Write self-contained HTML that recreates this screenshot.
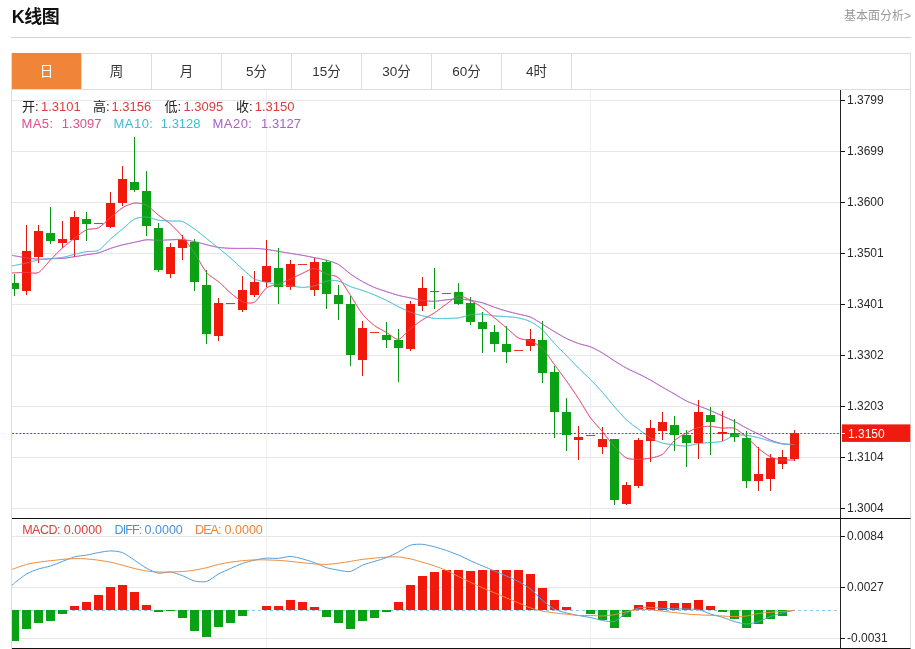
<!DOCTYPE html>
<html lang="zh-CN"><head><meta charset="utf-8"><title>K线图</title>
<style>
html,body{margin:0;padding:0;background:#fff;}
body{width:915px;height:649px;position:relative;overflow:hidden;font-family:"Liberation Sans","Noto Sans CJK SC",sans-serif;color:#222;}
.title{position:absolute;left:11.7px;top:3.7px;font-size:18px;font-weight:bold;line-height:26px;color:#111;letter-spacing:-0.5px}
.more{position:absolute;right:4px;top:7px;font-size:12px;line-height:18px;color:#999;}
.hr{position:absolute;left:11px;top:37px;width:900px;height:1px;background:#d2d2d2;}
.tabs{position:absolute;left:11px;top:53px;width:898px;height:35px;border:1px solid #ddd;background:#fff;}
.tab{position:absolute;top:0;width:69px;height:35px;border-right:1px solid #ddd;text-align:center;font-size:13.5px;line-height:35.6px;color:#333;}
.tab.on{background:#f0853a;color:#fff;top:-1px;height:36px;line-height:37.6px}
.frame{position:absolute;left:11px;top:90px;width:899px;height:559px;border-left:1px solid #ddd;border-right:1px solid #ddd;box-sizing:content-box;width:898px}
svg{position:absolute;left:0;top:0;}
.ax{position:absolute;left:847px;font-size:12px;line-height:14px;color:#2a2a2a;white-space:nowrap;}
.info{position:absolute;left:22px;font-size:13px;line-height:16px;white-space:nowrap;color:#222}
.info span{position:absolute;top:0}
.r{color:#d8403c}
</style></head><body>
<div class="title">K线图</div>
<div class="more">基本面分析&gt;</div>
<div class="hr"></div>
<div class="tabs"><div class="tab on" style="left:0px">日</div><div class="tab" style="left:70px">周</div><div class="tab" style="left:140px">月</div><div class="tab" style="left:210px">5分</div><div class="tab" style="left:280px">15分</div><div class="tab" style="left:350px">30分</div><div class="tab" style="left:420px">60分</div><div class="tab" style="left:490px">4时</div></div>
<div class="frame"></div>
<svg width="915" height="649" viewBox="0 0 915 649">
<defs><clipPath id="cp"><rect x="12" y="90" width="828" height="559"/></clipPath></defs>
<rect x="12" y="100" width="828" height="1" fill="#e7e7e7"/>
<rect x="12" y="151" width="828" height="1" fill="#e7e7e7"/>
<rect x="12" y="202" width="828" height="1" fill="#e7e7e7"/>
<rect x="12" y="253" width="828" height="1" fill="#e7e7e7"/>
<rect x="12" y="304" width="828" height="1" fill="#e7e7e7"/>
<rect x="12" y="355" width="828" height="1" fill="#e7e7e7"/>
<rect x="12" y="406" width="828" height="1" fill="#e7e7e7"/>
<rect x="12" y="457" width="828" height="1" fill="#e7e7e7"/>
<rect x="12" y="508" width="828" height="1" fill="#e7e7e7"/>
<rect x="12" y="536" width="828" height="1" fill="#e7e7e7"/>
<rect x="12" y="587" width="828" height="1" fill="#e7e7e7"/>
<rect x="12" y="638" width="828" height="1" fill="#e7e7e7"/>
<rect x="266" y="90" width="1" height="559" fill="#eceff3"/>
<rect x="590" y="90" width="1" height="559" fill="#eceff3"/>
<line x1="12" y1="610.5" x2="840" y2="610.5" stroke="#8fc4e6" stroke-width="1" stroke-dasharray="3 3"/>
<g clip-path="url(#cp)">
<path d="M11.5 255.4C11.9 255.4 12.7 255.5 14.5 255.8C16.3 256.1 23.6 257.5 26.5 257.9C29.4 258.3 35.6 259.1 38.5 259.2C41.4 259.3 47.6 258.8 50.5 258.7C53.4 258.6 59.6 258.6 62.5 258.4C65.4 258.2 71.6 257.1 74.5 256.7C77.4 256.3 83.6 255.2 86.5 254.7C89.4 254.2 95.6 253.7 98.5 252.9C101.4 252.1 107.6 249.4 110.5 248.4C113.4 247.4 119.6 245.6 122.5 244.9C125.4 244.2 131.6 242.9 134.5 242.3C137.4 241.7 143.6 240.0 146.5 239.8C149.4 239.6 155.6 240.3 158.5 240.3C161.4 240.3 167.6 239.9 170.5 239.8C173.4 239.7 179.6 239.4 182.5 239.6C185.4 239.8 191.6 241.0 194.5 241.6C197.4 242.2 203.6 244.0 206.5 244.7C209.4 245.4 215.6 247.0 218.5 247.4C221.4 247.8 227.6 248.2 230.5 248.3C233.4 248.4 239.6 248.4 242.5 248.4C245.4 248.4 251.6 248.3 254.5 248.4C257.4 248.5 263.6 249.0 266.5 249.4C269.4 249.8 275.6 250.9 278.5 251.4C281.4 251.9 287.6 252.9 290.5 253.4C293.4 253.9 299.6 254.8 302.5 255.3C305.4 255.8 311.6 257.1 314.5 257.7C317.4 258.3 323.6 259.4 326.5 260.2C329.4 261.0 335.6 262.8 338.5 264.5C341.4 266.2 347.6 271.9 350.5 274.0C353.4 276.1 359.6 280.0 362.5 281.6C365.4 283.2 371.6 286.3 374.5 287.5C377.4 288.7 383.6 290.7 386.5 291.6C389.4 292.5 395.6 294.6 398.5 295.4C401.4 296.2 407.6 297.3 410.5 297.9C413.4 298.5 419.6 300.0 422.5 300.4C425.4 300.8 431.6 301.4 434.5 301.3C437.4 301.2 443.6 300.1 446.5 299.8C449.4 299.5 455.6 298.9 458.5 299.0C461.4 299.1 467.6 299.8 470.5 300.3C473.4 300.8 479.6 302.0 482.5 302.8C485.4 303.6 491.6 306.3 494.5 307.3C497.4 308.3 503.6 310.3 506.5 311.1C509.4 311.9 515.6 313.4 518.5 314.1C521.4 314.8 527.6 315.9 530.5 317.1C533.4 318.3 539.6 322.4 542.5 324.2C545.4 326.0 551.6 330.0 554.5 331.7C557.4 333.4 563.6 337.1 566.5 338.5C569.4 339.9 575.6 342.5 578.5 343.5C581.4 344.5 587.6 345.7 590.5 346.8C593.4 347.9 599.6 351.3 602.5 353.0C605.4 354.7 611.6 359.1 614.5 360.9C617.4 362.7 623.6 366.6 626.5 368.2C629.4 369.8 635.6 372.5 638.5 373.9C641.4 375.3 647.6 378.5 650.5 380.1C653.4 381.7 659.6 385.5 662.5 387.2C665.4 388.9 671.6 392.3 674.5 394.0C677.4 395.7 683.6 399.6 686.5 401.0C689.4 402.4 695.6 404.6 698.5 405.8C701.4 407.0 707.6 409.4 710.5 410.6C713.4 411.8 719.6 414.7 722.5 416.0C725.4 417.3 731.6 419.9 734.5 421.4C737.4 422.9 743.6 426.6 746.5 428.1C749.4 429.6 755.6 432.7 758.5 434.1C761.4 435.5 767.6 438.9 770.5 440.1C773.4 441.3 779.6 443.2 782.5 443.7C785.4 444.2 793.1 444.5 794.5 444.6" fill="none" stroke="#ab55be" stroke-width="1.0"/>
<path d="M11.5 266.0C11.9 265.9 12.7 265.9 14.5 265.5C16.3 265.1 23.6 263.7 26.5 263.0C29.4 262.3 35.6 260.4 38.5 259.9C41.4 259.4 47.6 259.0 50.5 258.7C53.4 258.4 59.6 257.9 62.5 257.4C65.4 256.9 71.6 255.1 74.5 254.4C77.4 253.7 83.6 252.1 86.5 251.6C89.4 251.1 95.6 251.9 98.5 250.4C101.4 248.9 107.6 241.7 110.5 239.1C113.4 236.5 119.6 231.4 122.5 229.0C125.4 226.6 131.6 220.4 134.5 219.0C137.4 217.6 143.6 216.9 146.5 217.0C149.4 217.1 155.6 219.7 158.5 220.2C161.4 220.7 167.6 220.8 170.5 221.0C173.4 221.2 179.6 220.5 182.5 221.5C185.4 222.5 191.6 227.0 194.5 229.0C197.4 231.0 203.6 236.2 206.5 238.5C209.4 240.8 215.6 245.7 218.5 248.0C221.4 250.3 227.6 255.5 230.5 258.0C233.4 260.5 239.6 266.5 242.5 269.0C245.4 271.5 251.6 277.4 254.5 279.0C257.4 280.6 263.6 281.6 266.5 282.3C269.4 283.0 275.6 284.2 278.5 284.6C281.4 285.0 287.6 285.6 290.5 285.9C293.4 286.2 299.6 287.4 302.5 287.4C305.4 287.4 311.6 286.7 314.5 285.9C317.4 285.1 323.6 281.7 326.5 281.1C329.4 280.5 335.6 280.3 338.5 281.0C341.4 281.7 347.6 285.5 350.5 286.6C353.4 287.7 359.6 289.4 362.5 290.4C365.4 291.4 371.6 293.8 374.5 295.0C377.4 296.2 383.6 299.0 386.5 300.4C389.4 301.8 395.6 305.3 398.5 306.7C401.4 308.1 407.6 311.2 410.5 312.3C413.4 313.4 419.6 315.1 422.5 315.8C425.4 316.5 431.6 318.1 434.5 318.4C437.4 318.7 443.6 318.5 446.5 318.4C449.4 318.3 455.6 318.3 458.5 317.9C461.4 317.5 467.6 315.4 470.5 314.9C473.4 314.4 479.6 314.0 482.5 314.1C485.4 314.2 491.6 315.6 494.5 315.9C497.4 316.2 503.6 316.4 506.5 316.6C509.4 316.8 515.6 317.3 518.5 317.9C521.4 318.5 527.6 320.2 530.5 321.6C533.4 323.0 539.6 327.3 542.5 329.9C545.4 332.5 551.6 340.4 554.5 343.5C557.4 346.6 563.6 352.7 566.5 355.6C569.4 358.5 575.6 365.1 578.5 368.0C581.4 370.9 587.6 376.6 590.5 379.5C593.4 382.4 599.6 389.1 602.5 392.4C605.4 395.7 611.6 403.5 614.5 406.8C617.4 410.1 623.6 417.2 626.5 419.9C629.4 422.6 635.6 427.0 638.5 429.2C641.4 431.4 647.6 436.3 650.5 438.0C653.4 439.7 659.6 442.2 662.5 443.0C665.4 443.8 671.6 444.6 674.5 445.0C677.4 445.4 683.6 446.2 686.5 446.0C689.4 445.8 695.6 443.9 698.5 443.5C701.4 443.1 707.6 442.8 710.5 442.5C713.4 442.2 719.6 442.2 722.5 441.3C725.4 440.4 731.6 436.0 734.5 435.3C737.4 434.6 743.6 435.0 746.5 435.3C749.4 435.6 755.6 437.0 758.5 437.7C761.4 438.4 767.6 440.5 770.5 441.3C773.4 442.1 779.6 443.6 782.5 444.0C785.4 444.4 793.1 444.5 794.5 444.6" fill="none" stroke="#3bbcd0" stroke-width="1.0"/>
<path d="M11.5 273.0C11.9 273.0 12.7 272.9 14.5 272.8C16.3 272.7 23.6 272.5 26.5 272.5C29.4 272.5 35.6 274.0 38.5 272.5C41.4 271.0 47.6 262.9 50.5 259.9C53.4 256.9 59.6 250.5 62.5 247.9C65.4 245.3 71.6 240.5 74.5 238.3C77.4 236.1 83.6 231.1 86.5 229.8C89.4 228.5 95.6 229.3 98.5 227.8C101.4 226.3 107.6 220.1 110.5 217.7C113.4 215.3 119.6 209.5 122.5 207.7C125.4 205.9 131.6 203.4 134.5 203.1C137.4 202.8 143.6 203.6 146.5 205.1C149.4 206.6 155.6 212.9 158.5 215.2C161.4 217.5 167.6 221.4 170.5 224.0C173.4 226.6 179.6 233.1 182.5 236.6C185.4 240.1 191.6 248.6 194.5 252.9C197.4 257.2 203.6 269.0 206.5 272.5C209.4 276.0 215.6 279.3 218.5 281.7C221.4 284.1 227.6 290.5 230.5 292.9C233.4 295.3 239.6 300.6 242.5 301.7C245.4 302.8 251.6 303.9 254.5 302.2C257.4 300.5 263.6 290.1 266.5 287.9C269.4 285.7 275.6 285.2 278.5 284.1C281.4 283.0 287.6 280.4 290.5 279.1C293.4 277.8 299.6 274.6 302.5 273.3C305.4 272.0 311.6 268.2 314.5 268.3C317.4 268.4 323.6 272.9 326.5 274.0C329.4 275.1 335.6 275.2 338.5 277.8C341.4 280.4 347.6 291.0 350.5 295.4C353.4 299.8 359.6 310.7 362.5 314.3C365.4 317.9 371.6 323.4 374.5 325.6C377.4 327.8 383.6 330.7 386.5 332.4C389.4 334.1 395.6 339.9 398.5 339.4C401.4 338.9 407.6 331.0 410.5 328.6C413.4 326.2 419.6 321.7 422.5 319.8C425.4 317.9 431.6 314.7 434.5 312.8C437.4 310.9 443.6 306.0 446.5 304.0C449.4 302.0 455.6 296.2 458.5 295.8C461.4 295.4 467.6 298.9 470.5 300.3C473.4 301.7 479.6 305.7 482.5 307.8C485.4 309.9 491.6 315.5 494.5 317.9C497.4 320.3 503.6 325.5 506.5 327.9C509.4 330.3 515.6 336.4 518.5 338.0C521.4 339.6 527.6 339.7 530.5 341.0C533.4 342.3 539.6 345.7 542.5 348.5C545.4 351.3 551.6 360.8 554.5 364.7C557.4 368.6 563.6 376.9 566.5 381.0C569.4 385.1 575.6 394.2 578.5 398.6C581.4 403.0 587.6 413.8 590.5 417.8C593.4 421.8 599.6 428.2 602.5 431.7C605.4 435.2 611.6 443.6 614.5 446.8C617.4 450.0 623.6 456.6 626.5 458.1C629.4 459.6 635.6 459.3 638.5 459.3C641.4 459.3 647.6 458.7 650.5 458.1C653.4 457.5 659.6 456.4 662.5 454.3C665.4 452.2 671.6 443.1 674.5 440.5C677.4 437.9 683.6 434.5 686.5 432.9C689.4 431.3 695.6 428.2 698.5 427.4C701.4 426.6 707.6 426.2 710.5 426.3C713.4 426.4 719.6 427.9 722.5 428.1C725.4 428.3 731.6 427.2 734.5 428.3C737.4 429.4 743.6 434.7 746.5 437.1C749.4 439.5 755.6 446.1 758.5 448.5C761.4 450.9 767.6 455.5 770.5 456.9C773.4 458.3 779.6 459.5 782.5 459.9C785.4 460.3 793.1 459.9 794.5 459.9" fill="none" stroke="#e4406c" stroke-width="1.0"/>
<g shape-rendering="crispEdges">
<rect x="14.0" y="274.3" width="1" height="21.8" fill="#0a9614"/>
<rect x="10.0" y="282.6" width="9" height="6.0" fill="#0ba115"/>
<rect x="26.0" y="225.2" width="1" height="69.7" fill="#dc180d"/>
<rect x="22.0" y="250.9" width="9" height="39.7" fill="#f1190b"/>
<rect x="38.0" y="224.5" width="1" height="38.0" fill="#dc180d"/>
<rect x="34.0" y="230.8" width="9" height="26.6" fill="#f1190b"/>
<rect x="50.0" y="206.9" width="1" height="37.2" fill="#0a9614"/>
<rect x="46.0" y="232.8" width="9" height="7.8" fill="#0ba115"/>
<rect x="62.0" y="220.7" width="1" height="27.2" fill="#dc180d"/>
<rect x="58.0" y="239.3" width="9" height="4.0" fill="#f1190b"/>
<rect x="74.0" y="210.9" width="1" height="46.5" fill="#dc180d"/>
<rect x="70.0" y="217.2" width="9" height="22.6" fill="#f1190b"/>
<rect x="86.0" y="211.9" width="1" height="28.9" fill="#0a9614"/>
<rect x="82.0" y="218.5" width="9" height="5.2" fill="#0ba115"/>
<rect x="94.0" y="223" width="9" height="1" fill="#e5352b"/>
<rect x="110.0" y="192.0" width="1" height="35.8" fill="#dc180d"/>
<rect x="106.0" y="202.6" width="9" height="24.7" fill="#f1190b"/>
<rect x="122.0" y="165.5" width="1" height="40.2" fill="#dc180d"/>
<rect x="118.0" y="178.8" width="9" height="24.4" fill="#f1190b"/>
<rect x="134.0" y="137.3" width="1" height="54.6" fill="#0a9614"/>
<rect x="130.0" y="182.3" width="9" height="7.6" fill="#0ba115"/>
<rect x="146.0" y="171.0" width="1" height="64.9" fill="#0a9614"/>
<rect x="142.0" y="190.6" width="9" height="35.3" fill="#0ba115"/>
<rect x="158.0" y="223.2" width="1" height="48.6" fill="#0a9614"/>
<rect x="154.0" y="227.8" width="9" height="42.2" fill="#0ba115"/>
<rect x="170.0" y="242.8" width="1" height="34.7" fill="#dc180d"/>
<rect x="166.0" y="247.1" width="9" height="26.4" fill="#f1190b"/>
<rect x="182.0" y="235.3" width="1" height="24.7" fill="#dc180d"/>
<rect x="178.0" y="239.8" width="9" height="8.1" fill="#f1190b"/>
<rect x="194.0" y="239.0" width="1" height="51.6" fill="#0a9614"/>
<rect x="190.0" y="241.6" width="9" height="40.2" fill="#0ba115"/>
<rect x="206.0" y="270.4" width="1" height="73.3" fill="#0a9614"/>
<rect x="202.0" y="285.2" width="9" height="48.9" fill="#0ba115"/>
<rect x="218.0" y="298.2" width="1" height="42.6" fill="#dc180d"/>
<rect x="214.0" y="303.3" width="9" height="32.7" fill="#f1190b"/>
<rect x="226.0" y="303" width="9" height="1" fill="#e5352b"/>
<rect x="242.0" y="275.8" width="1" height="36.0" fill="#dc180d"/>
<rect x="238.0" y="289.6" width="9" height="20.1" fill="#f1190b"/>
<rect x="254.0" y="270.8" width="1" height="26.6" fill="#dc180d"/>
<rect x="250.0" y="282.3" width="9" height="13.1" fill="#f1190b"/>
<rect x="266.0" y="239.6" width="1" height="47.0" fill="#dc180d"/>
<rect x="262.0" y="266.0" width="9" height="15.6" fill="#f1190b"/>
<rect x="278.0" y="248.2" width="1" height="55.5" fill="#0a9614"/>
<rect x="274.0" y="268.0" width="9" height="18.6" fill="#0ba115"/>
<rect x="290.0" y="260.2" width="1" height="29.7" fill="#dc180d"/>
<rect x="286.0" y="264.2" width="9" height="22.4" fill="#f1190b"/>
<rect x="298.0" y="264" width="9" height="1" fill="#e5352b"/>
<rect x="314.0" y="258.2" width="1" height="37.7" fill="#dc180d"/>
<rect x="310.0" y="261.5" width="9" height="28.1" fill="#f1190b"/>
<rect x="326.0" y="260.2" width="1" height="48.5" fill="#0a9614"/>
<rect x="322.0" y="261.5" width="9" height="32.2" fill="#0ba115"/>
<rect x="338.0" y="285.4" width="1" height="34.1" fill="#0a9614"/>
<rect x="334.0" y="295.4" width="9" height="8.3" fill="#0ba115"/>
<rect x="350.0" y="296.2" width="1" height="70.1" fill="#0a9614"/>
<rect x="346.0" y="303.5" width="9" height="51.7" fill="#0ba115"/>
<rect x="362.0" y="320.6" width="1" height="55.3" fill="#dc180d"/>
<rect x="358.0" y="328.1" width="9" height="31.4" fill="#f1190b"/>
<rect x="370.0" y="332" width="9" height="1" fill="#e5352b"/>
<rect x="386.0" y="321.8" width="1" height="26.4" fill="#0a9614"/>
<rect x="382.0" y="335.1" width="9" height="5.1" fill="#0ba115"/>
<rect x="398.0" y="329.4" width="1" height="52.7" fill="#0a9614"/>
<rect x="394.0" y="339.9" width="9" height="7.8" fill="#0ba115"/>
<rect x="410.0" y="301.0" width="1" height="49.7" fill="#dc180d"/>
<rect x="406.0" y="304.1" width="9" height="45.3" fill="#f1190b"/>
<rect x="422.0" y="276.7" width="1" height="34.3" fill="#dc180d"/>
<rect x="418.0" y="288.0" width="9" height="17.9" fill="#f1190b"/>
<rect x="434.0" y="268.1" width="1" height="41.2" fill="#0a9614"/>
<rect x="430.0" y="290.6" width="9" height="1.4" fill="#0ba115"/>
<rect x="442.0" y="293" width="9" height="1" fill="#e5352b"/>
<rect x="458.0" y="282.7" width="1" height="22.1" fill="#0a9614"/>
<rect x="454.0" y="292.2" width="9" height="11.3" fill="#0ba115"/>
<rect x="470.0" y="296.5" width="1" height="28.2" fill="#0a9614"/>
<rect x="466.0" y="302.8" width="9" height="18.8" fill="#0ba115"/>
<rect x="482.0" y="311.6" width="1" height="41.5" fill="#0a9614"/>
<rect x="478.0" y="321.6" width="9" height="7.1" fill="#0ba115"/>
<rect x="494.0" y="325.4" width="1" height="26.4" fill="#0a9614"/>
<rect x="490.0" y="331.7" width="9" height="11.8" fill="#0ba115"/>
<rect x="506.0" y="326.2" width="1" height="36.4" fill="#0a9614"/>
<rect x="502.0" y="343.8" width="9" height="8.0" fill="#0ba115"/>
<rect x="514.0" y="350" width="9" height="1" fill="#e5352b"/>
<rect x="530.0" y="329.2" width="1" height="21.4" fill="#dc180d"/>
<rect x="526.0" y="338.5" width="9" height="7.8" fill="#f1190b"/>
<rect x="542.0" y="320.9" width="1" height="61.8" fill="#0a9614"/>
<rect x="538.0" y="340.0" width="9" height="32.8" fill="#0ba115"/>
<rect x="554.0" y="366.2" width="1" height="71.8" fill="#0a9614"/>
<rect x="550.0" y="372.3" width="9" height="39.2" fill="#0ba115"/>
<rect x="566.0" y="398.2" width="1" height="52.3" fill="#0a9614"/>
<rect x="562.0" y="412.2" width="9" height="22.7" fill="#0ba115"/>
<rect x="578.0" y="426.1" width="1" height="34.0" fill="#dc180d"/>
<rect x="574.0" y="436.7" width="9" height="3.0" fill="#f1190b"/>
<rect x="586.0" y="435" width="9" height="1" fill="#e5352b"/>
<rect x="602.0" y="427.4" width="1" height="26.9" fill="#dc180d"/>
<rect x="598.0" y="438.7" width="9" height="8.6" fill="#f1190b"/>
<rect x="614.0" y="439.2" width="1" height="65.4" fill="#0a9614"/>
<rect x="610.0" y="439.2" width="9" height="61.1" fill="#0ba115"/>
<rect x="626.0" y="482.0" width="1" height="22.6" fill="#dc180d"/>
<rect x="622.0" y="484.5" width="9" height="19.3" fill="#f1190b"/>
<rect x="638.0" y="437.5" width="1" height="50.2" fill="#dc180d"/>
<rect x="634.0" y="440.0" width="9" height="45.7" fill="#f1190b"/>
<rect x="650.0" y="420.4" width="1" height="41.4" fill="#dc180d"/>
<rect x="646.0" y="428.4" width="9" height="12.8" fill="#f1190b"/>
<rect x="662.0" y="412.3" width="1" height="27.7" fill="#dc180d"/>
<rect x="658.0" y="421.6" width="9" height="9.3" fill="#f1190b"/>
<rect x="674.0" y="415.8" width="1" height="34.7" fill="#0a9614"/>
<rect x="670.0" y="425.4" width="9" height="9.3" fill="#0ba115"/>
<rect x="686.0" y="430.4" width="1" height="36.5" fill="#0a9614"/>
<rect x="682.0" y="435.4" width="9" height="7.6" fill="#0ba115"/>
<rect x="698.0" y="400.2" width="1" height="58.4" fill="#dc180d"/>
<rect x="694.0" y="412.3" width="9" height="30.7" fill="#f1190b"/>
<rect x="710.0" y="406.6" width="1" height="47.9" fill="#0a9614"/>
<rect x="706.0" y="414.7" width="9" height="7.4" fill="#0ba115"/>
<rect x="722.0" y="410.7" width="1" height="29.9" fill="#dc180d"/>
<rect x="718.0" y="431.7" width="9" height="1.9" fill="#f1190b"/>
<rect x="734.0" y="419.1" width="1" height="22.4" fill="#0a9614"/>
<rect x="730.0" y="433.3" width="9" height="3.5" fill="#0ba115"/>
<rect x="746.0" y="430.6" width="1" height="57.1" fill="#0a9614"/>
<rect x="742.0" y="437.8" width="9" height="43.3" fill="#0ba115"/>
<rect x="758.0" y="446.8" width="1" height="43.8" fill="#dc180d"/>
<rect x="754.0" y="474.3" width="9" height="7.0" fill="#f1190b"/>
<rect x="770.0" y="454.0" width="1" height="36.6" fill="#dc180d"/>
<rect x="766.0" y="458.3" width="9" height="20.2" fill="#f1190b"/>
<rect x="782.0" y="449.8" width="1" height="19.0" fill="#dc180d"/>
<rect x="778.0" y="456.9" width="9" height="6.8" fill="#f1190b"/>
<rect x="794.0" y="429.9" width="1" height="30.8" fill="#dc180d"/>
<rect x="790.0" y="433.2" width="9" height="25.7" fill="#f1190b"/>
<rect x="10.0" y="610.4" width="9" height="30.2" fill="#0ba115"/>
<rect x="22.0" y="610.4" width="9" height="18.4" fill="#0ba115"/>
<rect x="34.0" y="610.4" width="9" height="12.6" fill="#0ba115"/>
<rect x="46.0" y="610.4" width="9" height="10.1" fill="#0ba115"/>
<rect x="58.0" y="610.4" width="9" height="3.8" fill="#0ba115"/>
<rect x="70.0" y="606.2" width="9" height="4.2" fill="#f1190b"/>
<rect x="82.0" y="601.6" width="9" height="8.8" fill="#f1190b"/>
<rect x="94.0" y="594.8" width="9" height="15.6" fill="#f1190b"/>
<rect x="106.0" y="586.6" width="9" height="23.8" fill="#f1190b"/>
<rect x="118.0" y="584.5" width="9" height="25.9" fill="#f1190b"/>
<rect x="130.0" y="592.3" width="9" height="18.1" fill="#f1190b"/>
<rect x="142.0" y="604.7" width="9" height="5.7" fill="#f1190b"/>
<rect x="154.0" y="610.4" width="9" height="2.0" fill="#0ba115"/>
<rect x="166.0" y="610.4" width="9" height="0.6" fill="#0ba115"/>
<rect x="178.0" y="610.4" width="9" height="7.1" fill="#0ba115"/>
<rect x="190.0" y="610.4" width="9" height="20.1" fill="#0ba115"/>
<rect x="202.0" y="610.4" width="9" height="26.4" fill="#0ba115"/>
<rect x="214.0" y="610.4" width="9" height="16.9" fill="#0ba115"/>
<rect x="226.0" y="610.4" width="9" height="12.1" fill="#0ba115"/>
<rect x="238.0" y="610.4" width="9" height="5.1" fill="#0ba115"/>
<rect x="262.0" y="605.9" width="9" height="4.5" fill="#f1190b"/>
<rect x="274.0" y="605.9" width="9" height="4.5" fill="#f1190b"/>
<rect x="286.0" y="600.4" width="9" height="10.0" fill="#f1190b"/>
<rect x="298.0" y="602.1" width="9" height="8.3" fill="#f1190b"/>
<rect x="310.0" y="607.2" width="9" height="3.2" fill="#f1190b"/>
<rect x="322.0" y="610.4" width="9" height="6.3" fill="#0ba115"/>
<rect x="334.0" y="610.4" width="9" height="12.6" fill="#0ba115"/>
<rect x="346.0" y="610.4" width="9" height="18.9" fill="#0ba115"/>
<rect x="358.0" y="610.4" width="9" height="10.1" fill="#0ba115"/>
<rect x="370.0" y="610.4" width="9" height="7.1" fill="#0ba115"/>
<rect x="382.0" y="610.4" width="9" height="1.3" fill="#0ba115"/>
<rect x="394.0" y="601.6" width="9" height="8.8" fill="#f1190b"/>
<rect x="406.0" y="584.5" width="9" height="25.9" fill="#f1190b"/>
<rect x="418.0" y="575.7" width="9" height="34.7" fill="#f1190b"/>
<rect x="430.0" y="572.0" width="9" height="38.4" fill="#f1190b"/>
<rect x="442.0" y="569.5" width="9" height="40.9" fill="#f1190b"/>
<rect x="454.0" y="569.5" width="9" height="40.9" fill="#f1190b"/>
<rect x="466.0" y="570.7" width="9" height="39.7" fill="#f1190b"/>
<rect x="478.0" y="569.7" width="9" height="40.7" fill="#f1190b"/>
<rect x="490.0" y="570.2" width="9" height="40.2" fill="#f1190b"/>
<rect x="502.0" y="569.5" width="9" height="40.9" fill="#f1190b"/>
<rect x="514.0" y="569.5" width="9" height="40.9" fill="#f1190b"/>
<rect x="526.0" y="574.0" width="9" height="36.4" fill="#f1190b"/>
<rect x="538.0" y="587.8" width="9" height="22.6" fill="#f1190b"/>
<rect x="550.0" y="600.4" width="9" height="10.0" fill="#f1190b"/>
<rect x="562.0" y="607.2" width="9" height="3.2" fill="#f1190b"/>
<rect x="586.0" y="610.4" width="9" height="3.1" fill="#0ba115"/>
<rect x="598.0" y="610.4" width="9" height="9.3" fill="#0ba115"/>
<rect x="610.0" y="610.4" width="9" height="17.1" fill="#0ba115"/>
<rect x="622.0" y="610.4" width="9" height="6.8" fill="#0ba115"/>
<rect x="634.0" y="605.4" width="9" height="5.0" fill="#f1190b"/>
<rect x="646.0" y="602.1" width="9" height="8.3" fill="#f1190b"/>
<rect x="658.0" y="601.1" width="9" height="9.3" fill="#f1190b"/>
<rect x="670.0" y="603.0" width="9" height="7.4" fill="#f1190b"/>
<rect x="682.0" y="602.7" width="9" height="7.7" fill="#f1190b"/>
<rect x="694.0" y="599.7" width="9" height="10.7" fill="#f1190b"/>
<rect x="706.0" y="606.0" width="9" height="4.4" fill="#f1190b"/>
<rect x="718.0" y="610.4" width="9" height="1.6" fill="#0ba115"/>
<rect x="730.0" y="610.4" width="9" height="8.6" fill="#0ba115"/>
<rect x="742.0" y="610.4" width="9" height="17.4" fill="#0ba115"/>
<rect x="754.0" y="610.4" width="9" height="13.6" fill="#0ba115"/>
<rect x="766.0" y="610.4" width="9" height="8.1" fill="#0ba115"/>
<rect x="778.0" y="610.4" width="9" height="5.4" fill="#0ba115"/>
</g>
<g opacity="0.4">
<path d="M11.5 255.4C11.9 255.4 12.7 255.5 14.5 255.8C16.3 256.1 23.6 257.5 26.5 257.9C29.4 258.3 35.6 259.1 38.5 259.2C41.4 259.3 47.6 258.8 50.5 258.7C53.4 258.6 59.6 258.6 62.5 258.4C65.4 258.2 71.6 257.1 74.5 256.7C77.4 256.3 83.6 255.2 86.5 254.7C89.4 254.2 95.6 253.7 98.5 252.9C101.4 252.1 107.6 249.4 110.5 248.4C113.4 247.4 119.6 245.6 122.5 244.9C125.4 244.2 131.6 242.9 134.5 242.3C137.4 241.7 143.6 240.0 146.5 239.8C149.4 239.6 155.6 240.3 158.5 240.3C161.4 240.3 167.6 239.9 170.5 239.8C173.4 239.7 179.6 239.4 182.5 239.6C185.4 239.8 191.6 241.0 194.5 241.6C197.4 242.2 203.6 244.0 206.5 244.7C209.4 245.4 215.6 247.0 218.5 247.4C221.4 247.8 227.6 248.2 230.5 248.3C233.4 248.4 239.6 248.4 242.5 248.4C245.4 248.4 251.6 248.3 254.5 248.4C257.4 248.5 263.6 249.0 266.5 249.4C269.4 249.8 275.6 250.9 278.5 251.4C281.4 251.9 287.6 252.9 290.5 253.4C293.4 253.9 299.6 254.8 302.5 255.3C305.4 255.8 311.6 257.1 314.5 257.7C317.4 258.3 323.6 259.4 326.5 260.2C329.4 261.0 335.6 262.8 338.5 264.5C341.4 266.2 347.6 271.9 350.5 274.0C353.4 276.1 359.6 280.0 362.5 281.6C365.4 283.2 371.6 286.3 374.5 287.5C377.4 288.7 383.6 290.7 386.5 291.6C389.4 292.5 395.6 294.6 398.5 295.4C401.4 296.2 407.6 297.3 410.5 297.9C413.4 298.5 419.6 300.0 422.5 300.4C425.4 300.8 431.6 301.4 434.5 301.3C437.4 301.2 443.6 300.1 446.5 299.8C449.4 299.5 455.6 298.9 458.5 299.0C461.4 299.1 467.6 299.8 470.5 300.3C473.4 300.8 479.6 302.0 482.5 302.8C485.4 303.6 491.6 306.3 494.5 307.3C497.4 308.3 503.6 310.3 506.5 311.1C509.4 311.9 515.6 313.4 518.5 314.1C521.4 314.8 527.6 315.9 530.5 317.1C533.4 318.3 539.6 322.4 542.5 324.2C545.4 326.0 551.6 330.0 554.5 331.7C557.4 333.4 563.6 337.1 566.5 338.5C569.4 339.9 575.6 342.5 578.5 343.5C581.4 344.5 587.6 345.7 590.5 346.8C593.4 347.9 599.6 351.3 602.5 353.0C605.4 354.7 611.6 359.1 614.5 360.9C617.4 362.7 623.6 366.6 626.5 368.2C629.4 369.8 635.6 372.5 638.5 373.9C641.4 375.3 647.6 378.5 650.5 380.1C653.4 381.7 659.6 385.5 662.5 387.2C665.4 388.9 671.6 392.3 674.5 394.0C677.4 395.7 683.6 399.6 686.5 401.0C689.4 402.4 695.6 404.6 698.5 405.8C701.4 407.0 707.6 409.4 710.5 410.6C713.4 411.8 719.6 414.7 722.5 416.0C725.4 417.3 731.6 419.9 734.5 421.4C737.4 422.9 743.6 426.6 746.5 428.1C749.4 429.6 755.6 432.7 758.5 434.1C761.4 435.5 767.6 438.9 770.5 440.1C773.4 441.3 779.6 443.2 782.5 443.7C785.4 444.2 793.1 444.5 794.5 444.6" fill="none" stroke="#c47fd2" stroke-width="1.0"/>
<path d="M11.5 266.0C11.9 265.9 12.7 265.9 14.5 265.5C16.3 265.1 23.6 263.7 26.5 263.0C29.4 262.3 35.6 260.4 38.5 259.9C41.4 259.4 47.6 259.0 50.5 258.7C53.4 258.4 59.6 257.9 62.5 257.4C65.4 256.9 71.6 255.1 74.5 254.4C77.4 253.7 83.6 252.1 86.5 251.6C89.4 251.1 95.6 251.9 98.5 250.4C101.4 248.9 107.6 241.7 110.5 239.1C113.4 236.5 119.6 231.4 122.5 229.0C125.4 226.6 131.6 220.4 134.5 219.0C137.4 217.6 143.6 216.9 146.5 217.0C149.4 217.1 155.6 219.7 158.5 220.2C161.4 220.7 167.6 220.8 170.5 221.0C173.4 221.2 179.6 220.5 182.5 221.5C185.4 222.5 191.6 227.0 194.5 229.0C197.4 231.0 203.6 236.2 206.5 238.5C209.4 240.8 215.6 245.7 218.5 248.0C221.4 250.3 227.6 255.5 230.5 258.0C233.4 260.5 239.6 266.5 242.5 269.0C245.4 271.5 251.6 277.4 254.5 279.0C257.4 280.6 263.6 281.6 266.5 282.3C269.4 283.0 275.6 284.2 278.5 284.6C281.4 285.0 287.6 285.6 290.5 285.9C293.4 286.2 299.6 287.4 302.5 287.4C305.4 287.4 311.6 286.7 314.5 285.9C317.4 285.1 323.6 281.7 326.5 281.1C329.4 280.5 335.6 280.3 338.5 281.0C341.4 281.7 347.6 285.5 350.5 286.6C353.4 287.7 359.6 289.4 362.5 290.4C365.4 291.4 371.6 293.8 374.5 295.0C377.4 296.2 383.6 299.0 386.5 300.4C389.4 301.8 395.6 305.3 398.5 306.7C401.4 308.1 407.6 311.2 410.5 312.3C413.4 313.4 419.6 315.1 422.5 315.8C425.4 316.5 431.6 318.1 434.5 318.4C437.4 318.7 443.6 318.5 446.5 318.4C449.4 318.3 455.6 318.3 458.5 317.9C461.4 317.5 467.6 315.4 470.5 314.9C473.4 314.4 479.6 314.0 482.5 314.1C485.4 314.2 491.6 315.6 494.5 315.9C497.4 316.2 503.6 316.4 506.5 316.6C509.4 316.8 515.6 317.3 518.5 317.9C521.4 318.5 527.6 320.2 530.5 321.6C533.4 323.0 539.6 327.3 542.5 329.9C545.4 332.5 551.6 340.4 554.5 343.5C557.4 346.6 563.6 352.7 566.5 355.6C569.4 358.5 575.6 365.1 578.5 368.0C581.4 370.9 587.6 376.6 590.5 379.5C593.4 382.4 599.6 389.1 602.5 392.4C605.4 395.7 611.6 403.5 614.5 406.8C617.4 410.1 623.6 417.2 626.5 419.9C629.4 422.6 635.6 427.0 638.5 429.2C641.4 431.4 647.6 436.3 650.5 438.0C653.4 439.7 659.6 442.2 662.5 443.0C665.4 443.8 671.6 444.6 674.5 445.0C677.4 445.4 683.6 446.2 686.5 446.0C689.4 445.8 695.6 443.9 698.5 443.5C701.4 443.1 707.6 442.8 710.5 442.5C713.4 442.2 719.6 442.2 722.5 441.3C725.4 440.4 731.6 436.0 734.5 435.3C737.4 434.6 743.6 435.0 746.5 435.3C749.4 435.6 755.6 437.0 758.5 437.7C761.4 438.4 767.6 440.5 770.5 441.3C773.4 442.1 779.6 443.6 782.5 444.0C785.4 444.4 793.1 444.5 794.5 444.6" fill="none" stroke="#7fd6e4" stroke-width="1.0"/>
<path d="M11.5 273.0C11.9 273.0 12.7 272.9 14.5 272.8C16.3 272.7 23.6 272.5 26.5 272.5C29.4 272.5 35.6 274.0 38.5 272.5C41.4 271.0 47.6 262.9 50.5 259.9C53.4 256.9 59.6 250.5 62.5 247.9C65.4 245.3 71.6 240.5 74.5 238.3C77.4 236.1 83.6 231.1 86.5 229.8C89.4 228.5 95.6 229.3 98.5 227.8C101.4 226.3 107.6 220.1 110.5 217.7C113.4 215.3 119.6 209.5 122.5 207.7C125.4 205.9 131.6 203.4 134.5 203.1C137.4 202.8 143.6 203.6 146.5 205.1C149.4 206.6 155.6 212.9 158.5 215.2C161.4 217.5 167.6 221.4 170.5 224.0C173.4 226.6 179.6 233.1 182.5 236.6C185.4 240.1 191.6 248.6 194.5 252.9C197.4 257.2 203.6 269.0 206.5 272.5C209.4 276.0 215.6 279.3 218.5 281.7C221.4 284.1 227.6 290.5 230.5 292.9C233.4 295.3 239.6 300.6 242.5 301.7C245.4 302.8 251.6 303.9 254.5 302.2C257.4 300.5 263.6 290.1 266.5 287.9C269.4 285.7 275.6 285.2 278.5 284.1C281.4 283.0 287.6 280.4 290.5 279.1C293.4 277.8 299.6 274.6 302.5 273.3C305.4 272.0 311.6 268.2 314.5 268.3C317.4 268.4 323.6 272.9 326.5 274.0C329.4 275.1 335.6 275.2 338.5 277.8C341.4 280.4 347.6 291.0 350.5 295.4C353.4 299.8 359.6 310.7 362.5 314.3C365.4 317.9 371.6 323.4 374.5 325.6C377.4 327.8 383.6 330.7 386.5 332.4C389.4 334.1 395.6 339.9 398.5 339.4C401.4 338.9 407.6 331.0 410.5 328.6C413.4 326.2 419.6 321.7 422.5 319.8C425.4 317.9 431.6 314.7 434.5 312.8C437.4 310.9 443.6 306.0 446.5 304.0C449.4 302.0 455.6 296.2 458.5 295.8C461.4 295.4 467.6 298.9 470.5 300.3C473.4 301.7 479.6 305.7 482.5 307.8C485.4 309.9 491.6 315.5 494.5 317.9C497.4 320.3 503.6 325.5 506.5 327.9C509.4 330.3 515.6 336.4 518.5 338.0C521.4 339.6 527.6 339.7 530.5 341.0C533.4 342.3 539.6 345.7 542.5 348.5C545.4 351.3 551.6 360.8 554.5 364.7C557.4 368.6 563.6 376.9 566.5 381.0C569.4 385.1 575.6 394.2 578.5 398.6C581.4 403.0 587.6 413.8 590.5 417.8C593.4 421.8 599.6 428.2 602.5 431.7C605.4 435.2 611.6 443.6 614.5 446.8C617.4 450.0 623.6 456.6 626.5 458.1C629.4 459.6 635.6 459.3 638.5 459.3C641.4 459.3 647.6 458.7 650.5 458.1C653.4 457.5 659.6 456.4 662.5 454.3C665.4 452.2 671.6 443.1 674.5 440.5C677.4 437.9 683.6 434.5 686.5 432.9C689.4 431.3 695.6 428.2 698.5 427.4C701.4 426.6 707.6 426.2 710.5 426.3C713.4 426.4 719.6 427.9 722.5 428.1C725.4 428.3 731.6 427.2 734.5 428.3C737.4 429.4 743.6 434.7 746.5 437.1C749.4 439.5 755.6 446.1 758.5 448.5C761.4 450.9 767.6 455.5 770.5 456.9C773.4 458.3 779.6 459.5 782.5 459.9C785.4 460.3 793.1 459.9 794.5 459.9" fill="none" stroke="#f07a9c" stroke-width="1.0"/>
</g>
<path d="M11.5 586.0C11.9 585.6 12.7 584.4 14.5 583.0C16.3 581.6 23.6 575.7 26.5 574.0C29.4 572.3 35.6 570.0 38.5 569.0C41.4 568.0 47.6 566.9 50.5 566.0C53.4 565.1 59.6 562.5 62.5 561.4C65.4 560.3 71.6 557.7 74.5 556.9C77.4 556.1 83.6 555.6 86.5 555.1C89.4 554.6 95.6 553.1 98.5 552.6C101.4 552.1 107.6 550.9 110.5 550.9C113.4 550.9 119.6 551.5 122.5 552.6C125.4 553.7 131.6 558.3 134.5 560.2C137.4 562.1 143.6 566.6 146.5 568.2C149.4 569.8 155.6 572.7 158.5 573.2C161.4 573.7 167.6 571.7 170.5 572.0C173.4 572.3 179.6 574.6 182.5 575.7C185.4 576.8 191.6 580.3 194.5 581.0C197.4 581.7 203.6 582.3 206.5 581.5C209.4 580.7 215.6 575.6 218.5 574.0C221.4 572.4 227.6 569.8 230.5 568.5C233.4 567.2 239.6 564.4 242.5 563.4C245.4 562.4 251.6 560.8 254.5 560.2C257.4 559.6 263.6 558.3 266.5 558.1C269.4 557.9 275.6 558.6 278.5 558.4C281.4 558.2 287.6 556.3 290.5 556.4C293.4 556.5 299.6 558.1 302.5 558.9C305.4 559.7 311.6 561.6 314.5 562.7C317.4 563.8 323.6 566.8 326.5 567.7C329.4 568.6 335.6 569.7 338.5 570.2C341.4 570.7 347.6 572.1 350.5 571.5C353.4 570.9 359.6 566.4 362.5 565.2C365.4 564.0 371.6 562.3 374.5 561.4C377.4 560.5 383.6 558.7 386.5 557.6C389.4 556.5 395.6 553.4 398.5 551.9C401.4 550.4 407.6 546.0 410.5 545.1C413.4 544.2 419.6 544.1 422.5 544.3C425.4 544.5 431.6 546.1 434.5 546.8C437.4 547.5 443.6 549.5 446.5 550.5C449.4 551.5 455.6 553.9 458.5 555.1C461.4 556.3 467.6 559.4 470.5 560.7C473.4 562.0 479.6 564.7 482.5 565.9C485.4 567.1 491.6 569.8 494.5 571.0C497.4 572.2 503.6 574.7 506.5 576.0C509.4 577.3 515.6 579.9 518.5 581.5C521.4 583.1 527.6 586.8 530.5 589.1C533.4 591.4 539.6 598.0 542.5 600.4C545.4 602.8 551.6 607.7 554.5 609.2C557.4 610.7 563.6 612.1 566.5 612.9C569.4 613.7 575.6 614.9 578.5 615.5C581.4 616.1 587.6 616.9 590.5 617.5C593.4 618.1 599.6 620.0 602.5 620.5C605.4 621.0 611.6 622.3 614.5 621.4C617.4 620.5 623.6 614.5 626.5 612.9C629.4 611.3 635.6 608.6 638.5 607.9C641.4 607.2 647.6 607.3 650.5 607.4C653.4 607.5 659.6 608.2 662.5 608.4C665.4 608.6 671.6 608.7 674.5 608.8C677.4 608.9 683.6 608.9 686.5 609.0C689.4 609.1 695.6 609.0 698.5 609.6C701.4 610.2 707.6 613.1 710.5 614.0C713.4 614.9 719.6 616.4 722.5 617.3C725.4 618.2 731.6 620.8 734.5 621.6C737.4 622.4 743.6 624.0 746.5 624.0C749.4 624.0 755.6 622.5 758.5 621.6C761.4 620.7 767.6 617.6 770.5 616.5C773.4 615.4 779.6 613.5 782.5 612.8C785.4 612.1 793.1 610.6 794.5 610.3" fill="none" stroke="#4f9fe0" stroke-width="1.0"/>
<path d="M11.5 569.5C11.9 569.4 12.7 569.1 14.5 568.5C16.3 567.9 23.6 565.2 26.5 564.4C29.4 563.6 35.6 562.6 38.5 562.2C41.4 561.8 47.6 561.0 50.5 560.7C53.4 560.4 59.6 559.7 62.5 559.4C65.4 559.1 71.6 558.7 74.5 558.6C77.4 558.5 83.6 558.7 86.5 558.9C89.4 559.1 95.6 559.8 98.5 560.2C101.4 560.6 107.6 561.6 110.5 562.2C113.4 562.8 119.6 564.4 122.5 565.2C125.4 566.0 131.6 567.8 134.5 568.5C137.4 569.2 143.6 570.6 146.5 571.0C149.4 571.4 155.6 571.9 158.5 572.0C161.4 572.1 167.6 572.1 170.5 572.0C173.4 571.9 179.6 571.7 182.5 571.5C185.4 571.3 191.6 570.7 194.5 570.2C197.4 569.7 203.6 568.4 206.5 567.7C209.4 567.0 215.6 565.1 218.5 564.4C221.4 563.7 227.6 562.6 230.5 562.2C233.4 561.8 239.6 561.0 242.5 560.7C245.4 560.4 251.6 560.0 254.5 559.9C257.4 559.8 263.6 559.8 266.5 559.9C269.4 560.0 275.6 560.2 278.5 560.4C281.4 560.6 287.6 561.1 290.5 561.4C293.4 561.7 299.6 562.4 302.5 562.7C305.4 563.0 311.6 563.7 314.5 563.9C317.4 564.1 323.6 564.5 326.5 564.4C329.4 564.3 335.6 563.6 338.5 563.2C341.4 562.8 347.6 561.9 350.5 561.4C353.4 560.9 359.6 559.8 362.5 559.4C365.4 559.0 371.6 558.4 374.5 558.1C377.4 557.8 383.6 557.2 386.5 557.1C389.4 557.0 395.6 556.7 398.5 556.9C401.4 557.1 407.6 558.3 410.5 558.9C413.4 559.5 419.6 561.4 422.5 562.2C425.4 563.0 431.6 564.9 434.5 565.9C437.4 566.9 443.6 569.2 446.5 570.5C449.4 571.8 455.6 575.1 458.5 576.5C461.4 577.9 467.6 580.9 470.5 582.3C473.4 583.7 479.6 586.5 482.5 587.8C485.4 589.1 491.6 591.6 494.5 592.8C497.4 594.0 503.6 596.7 506.5 597.9C509.4 599.1 515.6 601.7 518.5 602.9C521.4 604.1 527.6 606.9 530.5 607.9C533.4 608.9 539.6 610.6 542.5 611.2C545.4 611.8 551.6 612.5 554.5 612.9C557.4 613.3 563.6 613.9 566.5 614.2C569.4 614.5 575.6 615.3 578.5 615.5C581.4 615.7 587.6 615.4 590.5 615.5C593.4 615.6 599.6 616.1 602.5 616.0C605.4 615.9 611.6 615.2 614.5 614.7C617.4 614.2 623.6 612.3 626.5 611.7C629.4 611.1 635.6 609.9 638.5 609.7C641.4 609.5 647.6 609.5 650.5 609.7C653.4 609.9 659.6 610.9 662.5 611.2C665.4 611.5 671.6 612.2 674.5 612.5C677.4 612.8 683.6 613.7 686.5 614.0C689.4 614.3 695.6 614.6 698.5 614.8C701.4 615.0 707.6 615.2 710.5 615.3C713.4 615.4 719.6 615.8 722.5 616.0C725.4 616.2 731.6 616.6 734.5 616.6C737.4 616.6 743.6 616.4 746.5 616.0C749.4 615.6 755.6 613.9 758.5 613.5C761.4 613.1 767.6 612.5 770.5 612.3C773.4 612.1 779.6 611.7 782.5 611.5C785.4 611.3 793.1 610.4 794.5 610.3" fill="none" stroke="#f08a3c" stroke-width="1.0"/>
</g>
<line x1="12" y1="433.5" x2="842" y2="433.5" stroke="#e8261a" stroke-width="1" stroke-dasharray="2 1.65"/>
<rect x="840" y="90" width="1" height="559" fill="#222"/>
<rect x="12" y="518" width="898.5" height="1" fill="#111"/>
<rect x="12" y="648" width="898.5" height="1" fill="#111"/>
<rect x="841" y="100" width="4" height="1" fill="#111"/>
<rect x="841" y="151" width="4" height="1" fill="#111"/>
<rect x="841" y="202" width="4" height="1" fill="#111"/>
<rect x="841" y="253" width="4" height="1" fill="#111"/>
<rect x="841" y="304" width="4" height="1" fill="#111"/>
<rect x="841" y="355" width="4" height="1" fill="#111"/>
<rect x="841" y="406" width="4" height="1" fill="#111"/>
<rect x="841" y="457" width="4" height="1" fill="#111"/>
<rect x="841" y="508" width="4" height="1" fill="#111"/>
<rect x="841" y="536" width="4" height="1" fill="#111"/>
<rect x="841" y="587" width="4" height="1" fill="#111"/>
<rect x="841" y="638" width="4" height="1" fill="#111"/>
<rect x="842" y="424.4" width="68.3" height="17.5" fill="#ee1b0e"/>
<rect x="841" y="433" width="4" height="1" fill="#fff"/>
</svg>
<div class="ax" style="top:93.3px">1.3799</div><div class="ax" style="top:144.3px">1.3699</div><div class="ax" style="top:195.3px">1.3600</div><div class="ax" style="top:246.3px">1.3501</div><div class="ax" style="top:297.3px">1.3401</div><div class="ax" style="top:348.3px">1.3302</div><div class="ax" style="top:399.3px">1.3203</div><div class="ax" style="top:450.3px">1.3104</div><div class="ax" style="top:501.3px">1.3004</div><div class="ax" style="top:529.3px">0.0084</div><div class="ax" style="top:580.3px">0.0027</div><div class="ax" style="top:631.3px">-0.0031</div><div class="ax" style="top:426.7px;color:#fff;left:848px">1.3150</div>
<div class="info" style="top:98.5px;left:0">
<span style="left:22px">开:</span><span class="r" style="left:41px">1.3101</span>
<span style="left:93px">高:</span><span class="r" style="left:111.5px">1.3156</span>
<span style="left:164.4px">低:</span><span class="r" style="left:183.4px">1.3095</span>
<span style="left:236px">收:</span><span class="r" style="left:254.7px">1.3150</span>
</div>
<div class="info" style="top:116.3px;left:0">
<span style="left:21.4px;color:#e0508c;letter-spacing:0.45px">MA5:</span><span style="left:61.8px;color:#e0508c">1.3097</span>
<span style="left:113.6px;color:#3dbcd4;letter-spacing:0.45px">MA10:</span><span style="left:160.8px;color:#3dbcd4">1.3128</span>
<span style="left:212.6px;color:#a662c8;letter-spacing:0.45px">MA20:</span><span style="left:261.1px;color:#a662c8">1.3127</span>
</div>
<div class="info" style="top:522.2px;left:0;font-size:12.5px">
<span style="left:22.2px;color:#d8403c;letter-spacing:-0.5px">MACD:</span><span style="left:63.8px;color:#d8403c">0.0000</span>
<span style="left:114.6px;color:#4a90d9;letter-spacing:-0.9px">DIFF:</span><span style="left:144.6px;color:#4a90d9">0.0000</span>
<span style="left:195px;color:#f08336;letter-spacing:-0.9px">DEA:</span><span style="left:224.6px;color:#f08336">0.0000</span>
</div>
</body></html>
